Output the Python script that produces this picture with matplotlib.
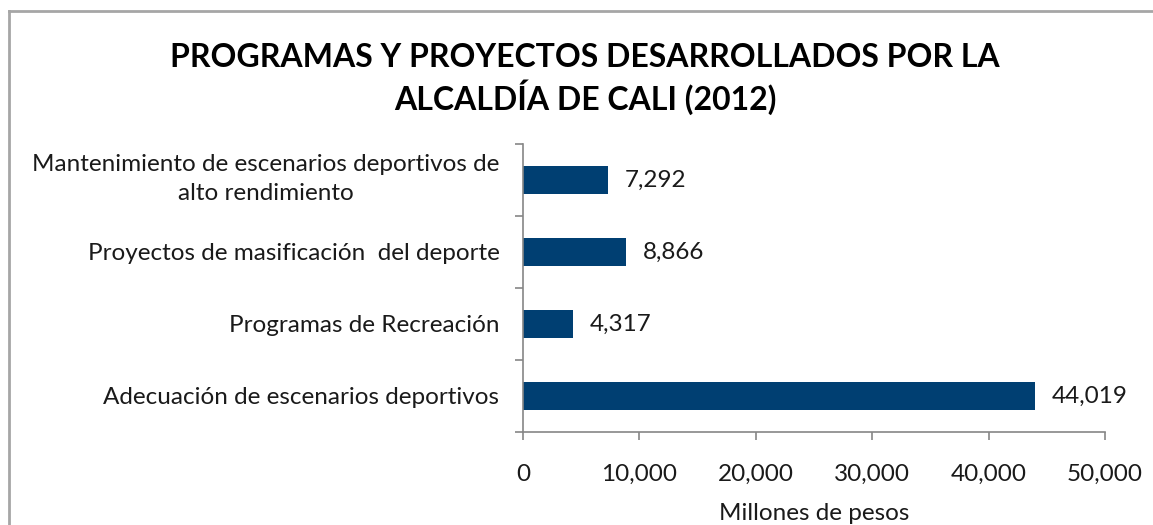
import matplotlib
matplotlib.use("Agg")
import matplotlib.pyplot as plt
from matplotlib.lines import Line2D
from matplotlib.transforms import ScaledTranslation
from matplotlib.ticker import FuncFormatter, FixedLocator

categories = [
    "Adecuación de escenarios deportivos",
    "Programas de Recreación",
    "Proyectos de masificación  del deporte",
    "Mantenimiento de escenarios deportivos de\nalto rendimiento",
]
values = [44019, 4317, 8866, 7292]
xticks = [0, 10000, 20000, 30000, 40000, 50000]
title = "PROGRAMAS Y PROYECTOS DESARROLLADOS POR LA\nALCALDÍA DE CALI (2012)"
xlabel = "Millones de pesos"

plt.rcParams['font.family'] = ['Lato', 'DejaVu Sans']

W, H = 1153, 525
fig = plt.figure(figsize=(W / 100, H / 100), dpi=100)
fig.patch.set_facecolor("white")

ax = fig.add_axes([523 / W, 1 - 432 / H, (1105 - 523) / W, (432 - 144) / H])
bar_color = "#003F72"
pos = list(range(len(categories)))
ax.barh(pos, values, height=0.38, color=bar_color)
ax.set_ylim(-0.5, len(categories) - 0.5)
ax.set_xlim(0, 50000)

fs = 17.5
txt_col = "#1a1a1a"
for p, v in zip(pos, values):
    ax.annotate(f"{v:,}", xy=(v, p), xytext=(12, 0), textcoords="offset points",
                va="center", ha="left", fontsize=fs, color=txt_col)

axis_col = "#868686"
for s in ["top", "right"]:
    ax.spines[s].set_visible(False)
for s in ["left", "bottom"]:
    ax.spines[s].set_color(axis_col)
    ax.spines[s].set_linewidth(1.2)

ax.set_yticks(pos)
ax.set_yticklabels(categories, fontsize=fs, color=txt_col, ha="right",
                   multialignment="center", linespacing=1.45)
ax.tick_params(axis="y", which="major", length=0, pad=17)
ax.yaxis.set_minor_locator(FixedLocator([-0.5, 0.5, 1.5, 2.5, 3.5]))
ax.tick_params(axis="y", which="minor", length=6, color=axis_col, width=1.2)

# nudge the two-line label up so it is centred on its bar
for lab in ax.get_yticklabels():
    if "\n" in lab.get_text():
        lab.set_transform(lab.get_transform() + ScaledTranslation(0, 7 / 100, fig.dpi_scale_trans))

ax.set_xticks(xticks)
ax.xaxis.set_major_formatter(FuncFormatter(lambda x, _: f"{int(x):,}"))
ax.tick_params(axis="x", length=6, color=axis_col, width=1.2, pad=17,
               labelsize=fs, labelcolor=txt_col)
ax.set_xlabel(xlabel, fontsize=fs, color=txt_col, labelpad=13)

fig.text(585 / W, 1 - 79 / H, title, ha="center", va="center",
         fontsize=23, fontweight="bold", color="black", linespacing=1.25)

# chart border (left and top visible)
fig.add_artist(Line2D([8.5 / W, 8.5 / W], [0, 1 - 11 / H], transform=fig.transFigure,
                      color="#A6A6A6", lw=2))
fig.add_artist(Line2D([8.5 / W, 1], [1 - 11 / H, 1 - 11 / H], transform=fig.transFigure,
                      color="#A6A6A6", lw=2))

fig.savefig("out.png", dpi=100, facecolor="white")
